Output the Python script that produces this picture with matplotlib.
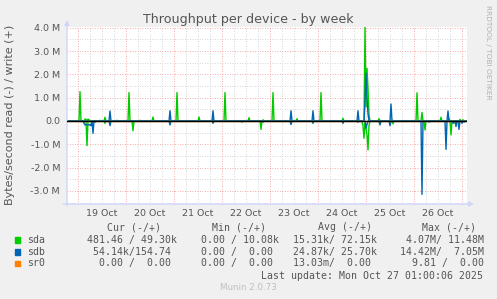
import numpy as np
import matplotlib
matplotlib.use('Agg')
import matplotlib.pyplot as plt

W, H = 497, 299

# x axis: hours since 19 Oct 00:00, 30 minute samples
day_labels = ['19 Oct', '20 Oct', '21 Oct', '22 Oct', '23 Oct', '24 Oct', '25 Oct', '26 Oct']
t_start, t_end = -5.5, 194.5

# spikes (hour, value in MB/s), everything else is ~0
sda_write_h = [1.0, 3.5, 4.0, 5.0, 5.5, 11.0, 13.5, 19.5, 25.5, 31.0, 37.5, 49.5, 60.5, 67.5,
               73.5, 85.5, 92.5, 97.5, 109.5, 117.5, 121.5, 132.5, 140.0, 143.5, 144.0, 144.5,
               145.0, 145.5, 150.5, 157.5, 169.5, 172.0, 181.5, 185.5, 191.0, 192.5]
sda_write_v = [1.26, 0.08, 0.08, 0.08, 0.06, 0.03, 0.16, 0.03, 1.22, 0.03, 0.17, 1.22, 0.17, 0.08,
               1.22, 0.14, 0.05, 1.22, 0.10, 0.05, 1.22, 0.12, 0.05, 4.07, 0.60, 2.26,
               1.40, 0.30, 0.10, 0.03, 1.21, 0.37, 0.16, 0.10, 0.07, 0.05]
sda_read_h = [3.0, 4.5, 6.5, 13.5, 27.5, 82.0, 91.5, 102.5, 132.5, 142.5, 143.0, 143.5, 144.0,
              144.5, 145.0, 145.5, 150.5, 157.5, 173.5, 186.5, 188.0]
sda_read_v = [0.05, 1.06, 0.05, 0.10, 0.42, 0.05, 0.36, 0.03, 0.05, 0.20, 0.74, 0.10, 0.30,
              0.60, 1.24, 0.20, 0.05, 0.12, 0.39, 0.60, 0.10]

sdb_write_h = [16.0, 46.0, 67.5, 106.5, 117.5, 140.0, 143.5, 144.0, 144.5, 145.0, 156.5, 185.0]
sdb_write_v = [0.43, 0.44, 0.44, 0.44, 0.44, 0.44, 0.80, 2.05, 1.00, 0.30, 0.73, 0.43]
sdb_read_h = [3.0, 3.5, 4.0, 4.5, 5.0, 5.5, 6.0, 6.5, 7.5, 8.5, 16.0, 46.0, 67.5, 92.5, 106.5,
              117.5, 132.5, 140.0, 144.0, 144.5, 151.0, 156.0, 172.0, 175.5, 184.0, 187.5,
              189.0, 190.5, 192.0, 193.0]
sdb_read_v = [0.10, 0.17, 0.15, 0.17, 0.17, 0.15, 0.17, 0.20, 0.53, 0.05, 0.20, 0.17, 0.10, 0.05, 0.15,
              0.10, 0.10, 0.05, 0.30, 0.15, 0.17, 0.20, 3.15, 0.05, 1.22, 0.10,
              0.24, 0.36, 0.10, 0.05]

legend_names = ['sda', 'sdb', 'sr0']
legend_colors = ['#00cc00', '#0066b3', '#ff8000']
cur = ['481.46 / 49.30k', ' 54.14k/154.74', '  0.00 /  0.00']
mins = ['  0.00 / 10.08k', '  0.00 /  0.00', '  0.00 /  0.00']
avgs = ['15.31k/ 72.15k', '24.87k/ 25.70k', '13.03m/  0.00']
maxs = ['  4.07M/ 11.48M', ' 14.42M/  7.05M', '   9.81 /  0.00']

t = np.arange(t_start, t_end + 0.01, 0.5)


def series(hours, vals):
    s = np.zeros(len(t))
    for h, v in zip(hours, vals):
        s[int(round((h - t_start) / 0.5))] = v
    return s


sda_w = series(sda_write_h, sda_write_v)
sda_r = series(sda_read_h, sda_read_v)
sdb_w = series(sdb_write_h, sdb_write_v)
sdb_r = series(sdb_read_h, sdb_read_v)
sr0 = np.zeros(len(t))

fig = plt.figure(figsize=(W / 100, H / 100), dpi=100, facecolor='#f0f0f0')


def px(x, y):
    return x / W, 1 - y / H


# plot area: x 67..467, y 27..204
ax = fig.add_axes([67 / W, 1 - 204 / H, 400 / W, 177 / H])
ax.set_facecolor('white')
ax.set_xlim(t_start, t_end)
ax.set_ylim(-83 / 23.3, 94 / 23.3)

# grid
minor = dict(color='#c8c8c8', lw=0.6, ls=(0, (1, 2)), zorder=0)
major = dict(color='#f09090', lw=0.6, ls=(0, (1, 2)), zorder=0)
for h in np.arange(-6, t_end, 6):
    if h > t_start:
        ax.axvline(h, **(major if h % 24 == 0 else minor))
for y in np.arange(-3.5, 4.01, 0.5):
    ax.axhline(y, **(major if y % 1 == 0 else minor))

ax.plot(t, -sda_r, color=legend_colors[0], lw=1.0, zorder=2)
ax.plot(t, sda_w, color=legend_colors[0], lw=1.0, zorder=2)
ax.plot(t, -sdb_r, color=legend_colors[1], lw=1.0, zorder=3)
ax.plot(t, sdb_w, color=legend_colors[1], lw=1.0, zorder=3)
ax.plot(t, sr0, color=legend_colors[2], lw=1.0, zorder=3)
ax.axhline(0, color='black', lw=1.0, zorder=4)

for s in ax.spines.values():
    s.set_visible(False)

yt = [-3, -2, -1, 0, 1, 2, 3, 4]
ax.set_yticks(yt, ['%.1f M' % v if v != 0 else '0.0' for v in yt])
ax.set_xticks([12 + 24 * i for i in range(len(day_labels))], day_labels)
ax.tick_params(length=0, labelsize=6.8, colors='#555555')
ax.tick_params(axis='y', pad=5)
ax.tick_params(axis='x', pad=3.5)

# axis lines with arrows
ac = '#cfd6f8'
ax.annotate('', xy=px(67, 20), xytext=px(67, 206), xycoords='figure fraction',
            arrowprops=dict(arrowstyle='-|>', color=ac, lw=1, mutation_scale=7, shrinkA=0, shrinkB=0))
ax.annotate('', xy=px(474, 204), xytext=px(63, 204), xycoords='figure fraction',
            arrowprops=dict(arrowstyle='-|>', color=ac, lw=1, mutation_scale=7, shrinkA=0, shrinkB=0))

fig.text(*px(248, 19), 'Throughput per device - by week', ha='center', va='center',
         fontsize=9.1, color='#555555')
fig.text(*px(10.5, 115), 'Bytes/second read (-) / write (+)', rotation=90, ha='center',
         va='center', fontsize=8, color='#555555')
fig.text(*px(488, 52), 'RRDTOOL / TOBI OETIKER', rotation=270, ha='center', va='center',
         fontsize=5.3, color='#b0b0b0')

mono = dict(family='DejaVu Sans Mono', fontsize=7.1, color='#555555', va='center')
for x, lab in zip([107, 212.5, 318, 422.5], ['Cur (-/+)', 'Min (-/+)', 'Avg (-/+)', 'Max (-/+)']):
    fig.text(*px(x, 227.3), lab, **mono)
for i, name in enumerate(legend_names):
    y = 240 + 11.7 * i
    fig.patches.append(plt.Rectangle(px(14.5, y + 2.8), 5.5 / W, 5.5 / H,
                                     transform=fig.transFigure, color=legend_colors[i]))
    fig.text(*px(26.7, y), name, **mono)
    fig.text(*px(87.3, y), cur[i], **mono)
    fig.text(*px(189, y), mins[i], **mono)
    fig.text(*px(293, y), avgs[i], **mono)
    fig.text(*px(394, y), maxs[i], **mono)
fig.text(*px(483, 275.7), 'Last update: Mon Oct 27 01:00:06 2025', ha='right',
         **{k: v for k, v in mono.items()})
fig.text(*px(248, 288), 'Munin 2.0.73', ha='center', va='center', fontsize=6.3, color='#c0c0c0')

fig.savefig('out.png', dpi=100, facecolor=fig.get_facecolor())
